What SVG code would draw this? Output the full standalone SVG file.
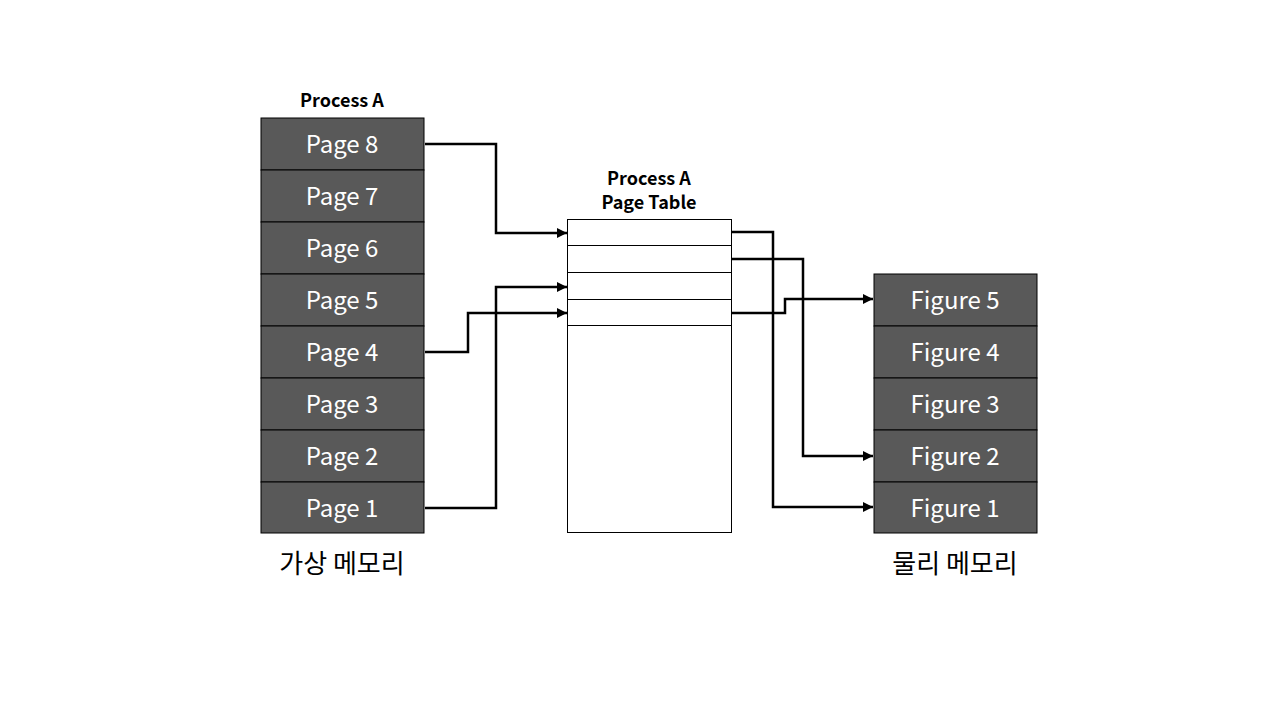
<svg xmlns="http://www.w3.org/2000/svg" width="1280" height="720" viewBox="0 0 1280 720">
<defs>
<style>
.cell{fill:#595959;stroke:#000;stroke-width:1}
.pt{fill:#fff;stroke:#000;stroke-width:1}
.lbl{font-family:"Noto Sans CJK KR","Noto Sans",sans-serif;font-size:24px;fill:#fff;text-anchor:middle;dominant-baseline:central}
.title{font-family:"Noto Sans CJK KR","Noto Sans",sans-serif;font-size:18px;font-weight:bold;fill:#000;text-anchor:middle}
.cap{font-family:"Noto Sans CJK KR","Noto Sans",sans-serif;font-size:26px;fill:#000;text-anchor:middle}
.conn{fill:none;stroke:#000;stroke-width:2.5}
</style>
<marker id="arr" viewBox="0 0 10 10" refX="10" refY="5" markerWidth="4" markerHeight="4" orient="auto" markerUnits="strokeWidth">
<path d="M0,0 L10,5 L0,10 z" fill="#000"/>
</marker>
</defs>
<rect width="1280" height="720" fill="#fff"/>

<g id="virtual-memory">
<text class="title" x="342" y="107">Process A</text>
<rect class="cell" x="261" y="118" width="163" height="52"/>
<text class="lbl" x="342" y="142">Page 8</text>
<rect class="cell" x="261" y="170" width="163" height="52"/>
<text class="lbl" x="342" y="194">Page 7</text>
<rect class="cell" x="261" y="222" width="163" height="52"/>
<text class="lbl" x="342" y="246">Page 6</text>
<rect class="cell" x="261" y="274" width="163" height="52"/>
<text class="lbl" x="342" y="298">Page 5</text>
<rect class="cell" x="261" y="326" width="163" height="52"/>
<text class="lbl" x="342" y="350">Page 4</text>
<rect class="cell" x="261" y="378" width="163" height="52"/>
<text class="lbl" x="342" y="402">Page 3</text>
<rect class="cell" x="261" y="430" width="163" height="52"/>
<text class="lbl" x="342" y="454">Page 2</text>
<rect class="cell" x="261" y="482" width="163" height="51"/>
<text class="lbl" x="342" y="506">Page 1</text>
<text class="cap" x="342" y="573">가상 메모리</text>
</g>

<g id="page-table">
<text class="title" x="649" y="185">Process A</text>
<text class="title" x="649" y="209">Page Table</text>
<rect class="pt" x="567.5" y="219.5" width="164" height="313"/>
<line x1="567.5" y1="245.5" x2="731.5" y2="245.5" stroke="#000" stroke-width="1"/>
<line x1="567.5" y1="272.5" x2="731.5" y2="272.5" stroke="#000" stroke-width="1"/>
<line x1="567.5" y1="299.5" x2="731.5" y2="299.5" stroke="#000" stroke-width="1"/>
<line x1="567.5" y1="325.5" x2="731.5" y2="325.5" stroke="#000" stroke-width="1"/>
</g>

<g id="physical-memory">
<rect class="cell" x="874" y="274" width="163" height="52"/>
<text class="lbl" x="955" y="298">Figure 5</text>
<rect class="cell" x="874" y="326" width="163" height="52"/>
<text class="lbl" x="955" y="350">Figure 4</text>
<rect class="cell" x="874" y="378" width="163" height="52"/>
<text class="lbl" x="955" y="402">Figure 3</text>
<rect class="cell" x="874" y="430" width="163" height="52"/>
<text class="lbl" x="955" y="454">Figure 2</text>
<rect class="cell" x="874" y="482" width="163" height="51"/>
<text class="lbl" x="955" y="506">Figure 1</text>
<text class="cap" x="955" y="573">물리 메모리</text>
</g>

<g id="connectors">
<path class="conn" marker-end="url(#arr)" d="M425,144 H496 V233 H567"/>
<path class="conn" marker-end="url(#arr)" d="M425,508 H496 V287 H567"/>
<path class="conn" marker-end="url(#arr)" d="M425,352 H468 V313 H567"/>
<path class="conn" marker-end="url(#arr)" d="M732,232 H773 V507 H873"/>
<path class="conn" marker-end="url(#arr)" d="M732,259 H803 V456 H873"/>
<path class="conn" marker-end="url(#arr)" d="M732,313 H785 V299 H873"/>
</g>
</svg>
